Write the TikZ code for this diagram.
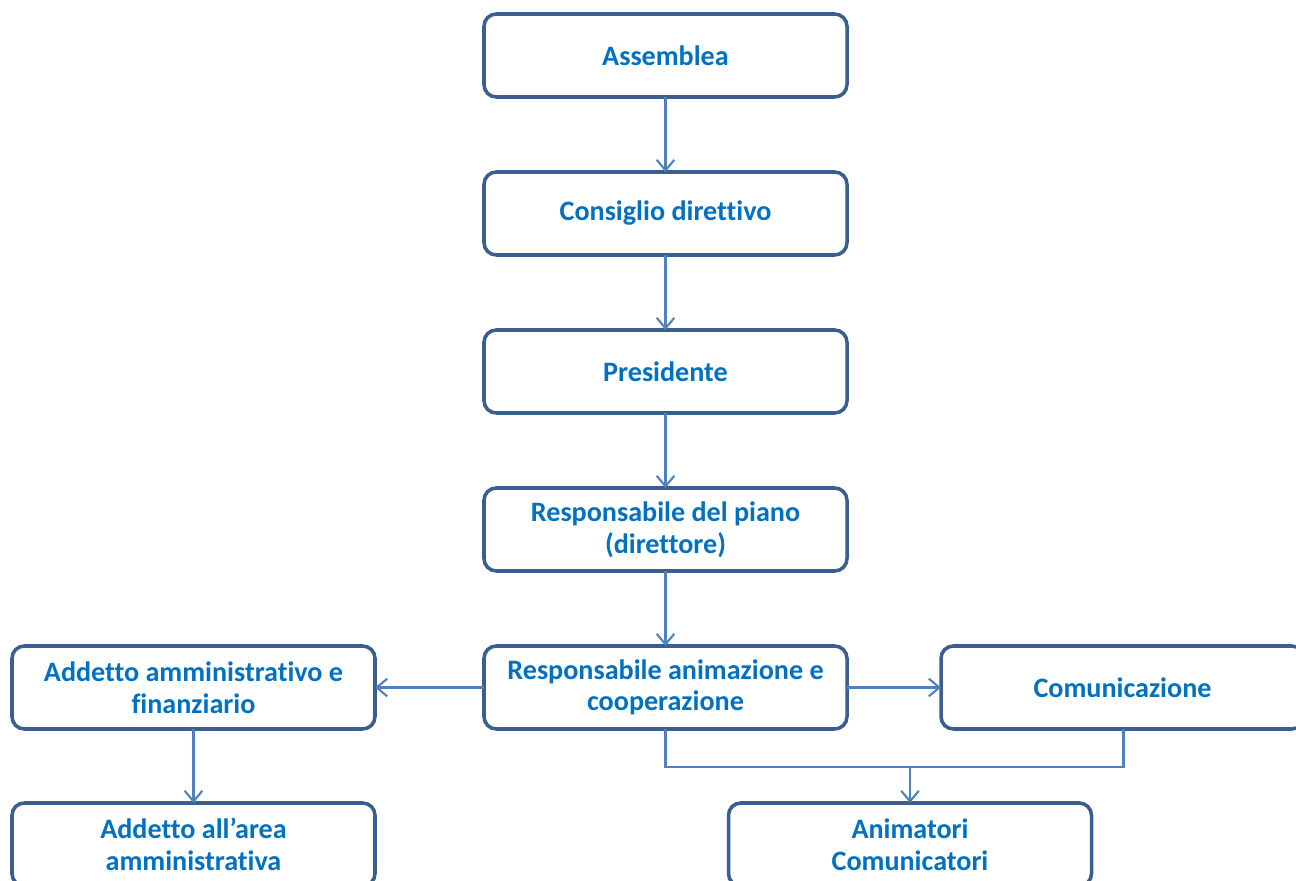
\documentclass[tikz,border=0pt]{standalone}
\usepackage{fontspec}
\setmainfont{Carlito}[Ligatures=NoCommon]
\usepackage{tikz}
\usetikzlibrary{arrows.meta,positioning}
\definecolor{boxline}{RGB}{58,95,142}
\definecolor{linkblue}{RGB}{79,129,189}
\definecolor{textblue}{RGB}{0,112,192}

\begin{document}
\begin{tikzpicture}[>={Straight Barb[length=6pt,width=10pt]},
  every node/.style={align=center},
  orgbox/.style={draw=boxline,line width=2pt,rounded corners=7pt,fill=white,
    minimum width=7.26cm,minimum height=1.66cm,outer sep=0pt,
    text=textblue,font=\bfseries\fontsize{16}{18}\selectfont},
  link/.style={->,linkblue,line width=1.2pt}]
  \useasboundingbox (0,0) rectangle (25.92,-17.62);
  % main column
  \node[orgbox] (assemblea) at (13.31,-1.11) {Assemblea};
  \node[orgbox,below=1.5cm of assemblea] (consiglio) {Consiglio direttivo};
  \node[orgbox,below=1.5cm of consiglio] (presidente) {Presidente};
  \node[orgbox,below=1.5cm of presidente] (direttore) {Responsabile del piano\\(direttore)};
  \node[orgbox,below=1.5cm of direttore] (animazione) {Responsabile animazione e\\cooperazione};
  % side boxes
  \node[orgbox,left=2.18cm of animazione] (amministrativo) {Addetto amministrativo e\\finanziario};
  \node[orgbox,right=1.88cm of animazione] (comunicazione) {Comunicazione};
  \node[orgbox,below=1.48cm of amministrativo] (area) {Addetto all’area\\amministrativa};
  \node[orgbox,below=1.48cm of animazione,xshift=4.89cm] (animatori) {Animatori\\Comunicatori};
  \coordinate (merge) at ([yshift=-0.76cm]animazione.south -| animatori.north);
  % connectors
  \draw[link] (assemblea) -- (consiglio);
  \draw[link] (consiglio) -- (presidente);
  \draw[link] (presidente) -- (direttore);
  \draw[link] (direttore) -- (animazione);
  \draw[link] (animazione) -- (amministrativo);
  \draw[link] (animazione) -- (comunicazione);
  \draw[link] (amministrativo) -- (area);
  \draw[linkblue,line width=1.2pt] (animazione.south) |- (merge)
    -| ([xshift=0.02cm]comunicazione.south);
  \draw[link] (merge) -- (animatori);
\end{tikzpicture}
\end{document}
